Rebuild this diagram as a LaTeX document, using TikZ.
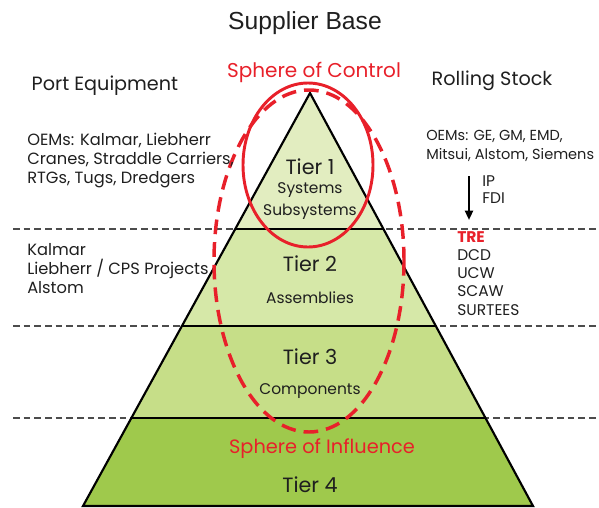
\documentclass[tikz,border=0pt]{standalone}
\usepackage{fontspec}
\setmainfont{Poppins}
\newfontfamily\headfont{Liberation Sans}
\usepackage{xcolor}
\usetikzlibrary{arrows.meta,positioning}

\definecolor{tierA}{HTML}{E2EDC0}
\definecolor{tierB}{HTML}{D6E8A8}
\definecolor{tierC}{HTML}{C6DE88}
\definecolor{tierD}{HTML}{9FC94C}
\definecolor{sphere}{HTML}{E8202A}

\begin{document}
\begin{tikzpicture}[x=0.75pt, y=-0.75pt,
  lbl/.style={align=left, anchor=north west, inner sep=0pt, font=\fontsize{12.2}{14.2}\selectfont, text=black!88},
  tier/.style={align=center, inner sep=0pt, font=\fontsize{15.5}{17}\selectfont, text=black!88},
  sub/.style={align=center, inner sep=0pt, font=\fontsize{11.6}{16}\selectfont, text=black!88},
  head/.style={font=\fontsize{14.4}{16}\selectfont, text=black!88},
  sep/.style={dash pattern=on 5pt off 3pt, black!70, line width=1.2pt},
  edge/.style={black, line width=1.6pt},
  arr/.style={-{Triangle[length=7pt, width=6pt]}, line width=1.6pt}
]
\useasboundingbox (0,0) rectangle (599,507);

% tier separators
\draw[sep] (13,229) -- (599,229);
\draw[sep] (13,326) -- (599,326);
\draw[sep] (13,418) -- (599,418);

% pyramid tiers
\fill[tierA] (310,93) -- (235.2,229) -- (383.4,229) -- cycle;
\fill[tierB] (235.2,229) -- (181.9,326) -- (435.8,326) -- (383.4,229) -- cycle;
\fill[tierC] (181.9,326) -- (131.4,418) -- (485.5,418) -- (435.8,326) -- cycle;
\fill[tierD] (131.4,418) -- (83,506) -- (533,506) -- (485.5,418) -- cycle;
\draw[edge] (310,93) -- (83,506) -- (533,506) -- cycle;
\draw[edge] (235.2,229) -- (383.4,229);
\draw[edge] (181.9,326) -- (435.8,326);
\draw[edge] (131.4,418) -- (485.5,418);

% spheres
\draw[sphere, line width=2.2pt] (308,165) ellipse [x radius=65, y radius=82];
\draw[sphere, line width=2.6pt, dash pattern=on 11pt off 6pt] (309,261) ellipse [x radius=95, y radius=171];

% titles
\node[font=\headfont\fontsize{18.5}{20}\selectfont, text=black!88] (title) at (305,23) {Supplier Base};
\node[font=\fontsize{15}{17}\selectfont, text=sphere] (ctrl) at (314,72) {Sphere of Control};
\node[head, anchor=west] (port) at (27,86) {Port Equipment};
\node[head, anchor=west] (rail) at (427,81) {Rolling Stock};

% tier labels
\node[tier] (t1) at (310,167) {Tier 1};
\node[sub] (t1s) at (310,201) {Systems\\Subsystems};
\node[tier] (t2) at (310,264) {Tier 2};
\node[sub] (t2s) at (310,298) {Assemblies};
\node[tier] (t3) at (310,357) {Tier 3};
\node[sub] (t3s) at (310,391) {Components};
\node[font=\fontsize{14.5}{16}\selectfont, text=sphere] (infl) at (322,449) {Sphere of Influence};
\node[tier] (t4) at (310,485) {Tier 4};

% port equipment suppliers
\node[lbl] (portoem) at (27,133) {OEMs: Kalmar, Liebherr\\Cranes, Straddle Carriers,\\RTGs, Tugs, Dredgers};
\node[lbl] (portloc) at (27,243) {Kalmar\\Liebherr / CPS Projects\\Alstom};

% rolling stock suppliers
\node[lbl, font=\fontsize{10.9}{14}\selectfont] (railoem) at (426,130) {OEMs: GE, GM, EMD,\\Mitsui, Alstom, Siemens};
\coordinate (flowtop) at (469,176);
\coordinate (flowbot) at (469,220);
\draw[arr] (flowtop) -- (flowbot);
\node[lbl, font=\fontsize{11.6}{13}\selectfont] (flow) at (482,175) {IP\\FDI};
\node[lbl, font=\fontsize{11.6}{13.7}\selectfont] (railloc) at (457,231) {\textcolor{sphere}{\textbf{TRE}}\\DCD\\UCW\\SCAW\\SURTEES};
\end{tikzpicture}
\end{document}
